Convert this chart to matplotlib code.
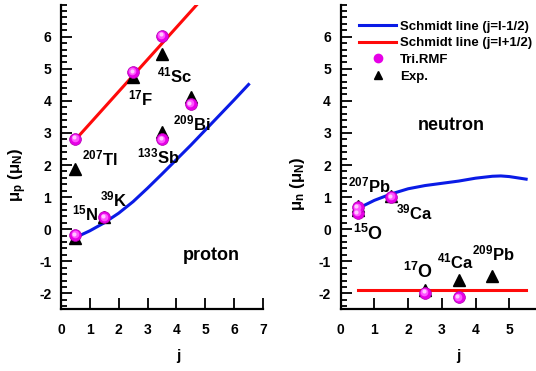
import numpy as np
import matplotlib
matplotlib.use('Agg')
import matplotlib.pyplot as plt
import matplotlib.transforms as mtransforms
from matplotlib.ticker import MultipleLocator, AutoMinorLocator
from matplotlib.lines import Line2D

plt.rcParams['axes.unicode_minus'] = False
plt.rcParams['font.family'] = ['Liberation Sans', 'DejaVu Sans']
plt.rcParams['font.weight'] = 'bold'
plt.rcParams['mathtext.fontset'] = 'custom'
plt.rcParams['mathtext.rm'] = 'Liberation Sans:bold'
plt.rcParams['mathtext.it'] = 'Liberation Sans:bold'
plt.rcParams['mathtext.bf'] = 'Liberation Sans:bold'
plt.rcParams['mathtext.sf'] = 'Liberation Sans:bold'

# proton data
p_j = [0.5, 0.5, 1.5, 2.5, 3.5, 3.5, 4.5]
p_rmf = [-0.18, 2.82, 0.37, 4.90, 6.03, 2.80, 3.90]
p_exp = [-0.28, 1.88, 0.39, 4.73, 5.46, 3.02, 4.12]

# proton Schmidt lines
p_low_j = [0.5, 1.0, 1.5, 2.0, 2.5, 3.0, 3.5, 4.0, 4.5, 5.0, 5.5, 6.0, 6.5]
p_low_mu = [-0.26, -0.05, 0.20, 0.50, 0.86, 1.28, 1.72, 2.17, 2.62, 3.09, 3.56, 4.03, 4.51]
p_up_j = [0.5, 5.0]
p_up_mu = [2.79, 7.29]

# neutron data
n_j = [0.5, 0.5, 1.5, 2.5, 3.5]
n_rmf = [0.50, 0.68, 1.00, -1.98, -2.12]
n_j_exp = [0.5, 0.5, 1.5, 2.5, 3.5, 4.5]
n_exp = [0.72, 0.59, 1.02, -1.89, -1.57, -1.45]

n_low_j = [0.5, 1.0, 1.5, 2.0, 2.5, 3.0, 3.5, 4.0, 4.5, 4.75, 5.0, 5.5]
n_low_mu = [0.64, 0.90, 1.10, 1.26, 1.36, 1.43, 1.50, 1.59, 1.65, 1.66, 1.64, 1.56]
n_up_j = [0.5, 5.5]
n_up_mu = [-1.91, -1.91]

p_labels = [(r'$^{207}$Tl', 0.74, 1.98, 12), (r'$^{15}$N', 0.37, 0.28, 12),
            (r'$^{39}$K', 1.35, 0.70, 12), (r'$^{17}$F', 2.33, 3.87, 12),
            (r'$^{41}$Sc', 3.33, 4.57, 12), (r'$^{209}$Bi', 3.89, 3.09, 12),
            (r'$^{133}$Sb', 2.62, 2.05, 12), ('proton', 4.23, -0.96, 13)]
n_labels = [(r'$^{207}$Pb', 0.21, 1.14, 12), (r'$^{39}$Ca', 1.64, 0.29, 12),
            (r'$^{15}$O', 0.36, -0.34, 13), (r'$^{17}$O', 1.84, -1.53, 13),
            (r'$^{41}$Ca', 2.85, -1.22, 12), (r'$^{209}$Pb', 3.89, -0.96, 12),
            ('neutron', 2.30, 3.09, 13)]


def spheres(ax, x, y, ms=8.5):
    ax.plot(x, y, 'o', color='#e600e6', ms=ms, mec='#b000b0', mew=0.5, zorder=5)
    for dx, s, c in [(-0.5, ms * 0.65, '#ff55ff'), (-1.0, ms * 0.35, '#ffc8ff')]:
        off = mtransforms.offset_copy(ax.transData, fig=ax.figure, x=dx, y=-dx, units='points')
        ax.plot(x, y, 'o', color=c, ms=s, mew=0, transform=off, zorder=6)


def style(ax, xmax, nticks):
    ax.set_xlim(0, xmax)
    ax.set_ylim(-2.5, 7)
    for s in ['top', 'right']:
        ax.spines[s].set_visible(False)
    for s in ['left', 'bottom']:
        ax.spines[s].set_linewidth(1.6)
    ax.set_xticks(range(0, nticks))
    ax.yaxis.set_minor_locator(AutoMinorLocator(5))
    ax.set_yticks(range(-2, 7))
    ax.tick_params(axis='both', which='major', direction='in', length=8, width=1.3, labelsize=10)
    ax.tick_params(axis='y', which='minor', direction='in', length=4, width=1.3)
    ax.tick_params(axis='y', which='major', pad=7)
    ax.tick_params(axis='x', which='major', pad=10)
    ax.set_xlabel('j', fontsize=11, fontweight='bold')


fig = plt.figure(figsize=(5.36, 3.71), dpi=100)
ax1 = fig.add_axes([61 / 536, 0.166, 202 / 536, 0.8216])
ax2 = fig.add_axes([340.7 / 536, 0.166, 236 / 536, 0.8216])

# proton panel
ax1.plot(p_low_j, p_low_mu, color='#0a1be6', lw=2.2, zorder=3)
ax1.plot(p_up_j, p_up_mu, color='#ff0a0a', lw=2.2, zorder=3)
ax1.plot(p_j, p_exp, '^', color='black', ms=8, zorder=4)
spheres(ax1, p_j, p_rmf)
for t, x, y, fs in p_labels:
    ax1.text(x, y, t, fontsize=fs, fontweight='bold', ha='left', va='baseline')
style(ax1, 7, 8)
ax1.set_ylabel(r'μ$_p$ (μ$_N$)', fontsize=12, fontweight='bold')
ax1.xaxis.set_label_coords(0.58, -0.13)
ax1.yaxis.set_label_coords(-0.16, 0.44)

# neutron panel
ax2.plot(n_low_j, n_low_mu, color='#0a1be6', lw=2.2, zorder=3)
ax2.plot(n_up_j, n_up_mu, color='#ff0a0a', lw=2.2, zorder=3)
ax2.plot(n_j_exp, n_exp, '^', color='black', ms=8, zorder=4)
spheres(ax2, n_j, n_rmf)
for t, x, y, fs in n_labels:
    ax2.text(x, y, t, fontsize=fs, fontweight='bold', ha='left', va='baseline')
style(ax2, 7, 6)
ax2.set_ylabel(r'μ$_n$ (μ$_N$)', fontsize=12, fontweight='bold')
ax2.xaxis.set_label_coords(0.5, -0.13)
ax2.yaxis.set_label_coords(-0.143, 0.41)

handles = [Line2D([], [], color='#0a1be6', lw=2.2),
           Line2D([], [], color='#ff0a0a', lw=2.2),
           Line2D([], [], ls='none', marker='o', color='#e600e6', ms=6),
           Line2D([], [], ls='none', marker='^', color='black', ms=6)]
ax2.legend(handles, ['Schmidt line (j=l-1/2)', 'Schmidt line (j=l+1/2)', 'Tri.RMF', 'Exp.'],
           loc='upper left', bbox_to_anchor=(0.057, 0.965), frameon=False,
           prop={'size': 9.5, 'weight': 'bold'}, handlelength=2.8, handletextpad=0.3,
           labelspacing=0.33, borderaxespad=0)

fig.savefig('out.png', dpi=100)
